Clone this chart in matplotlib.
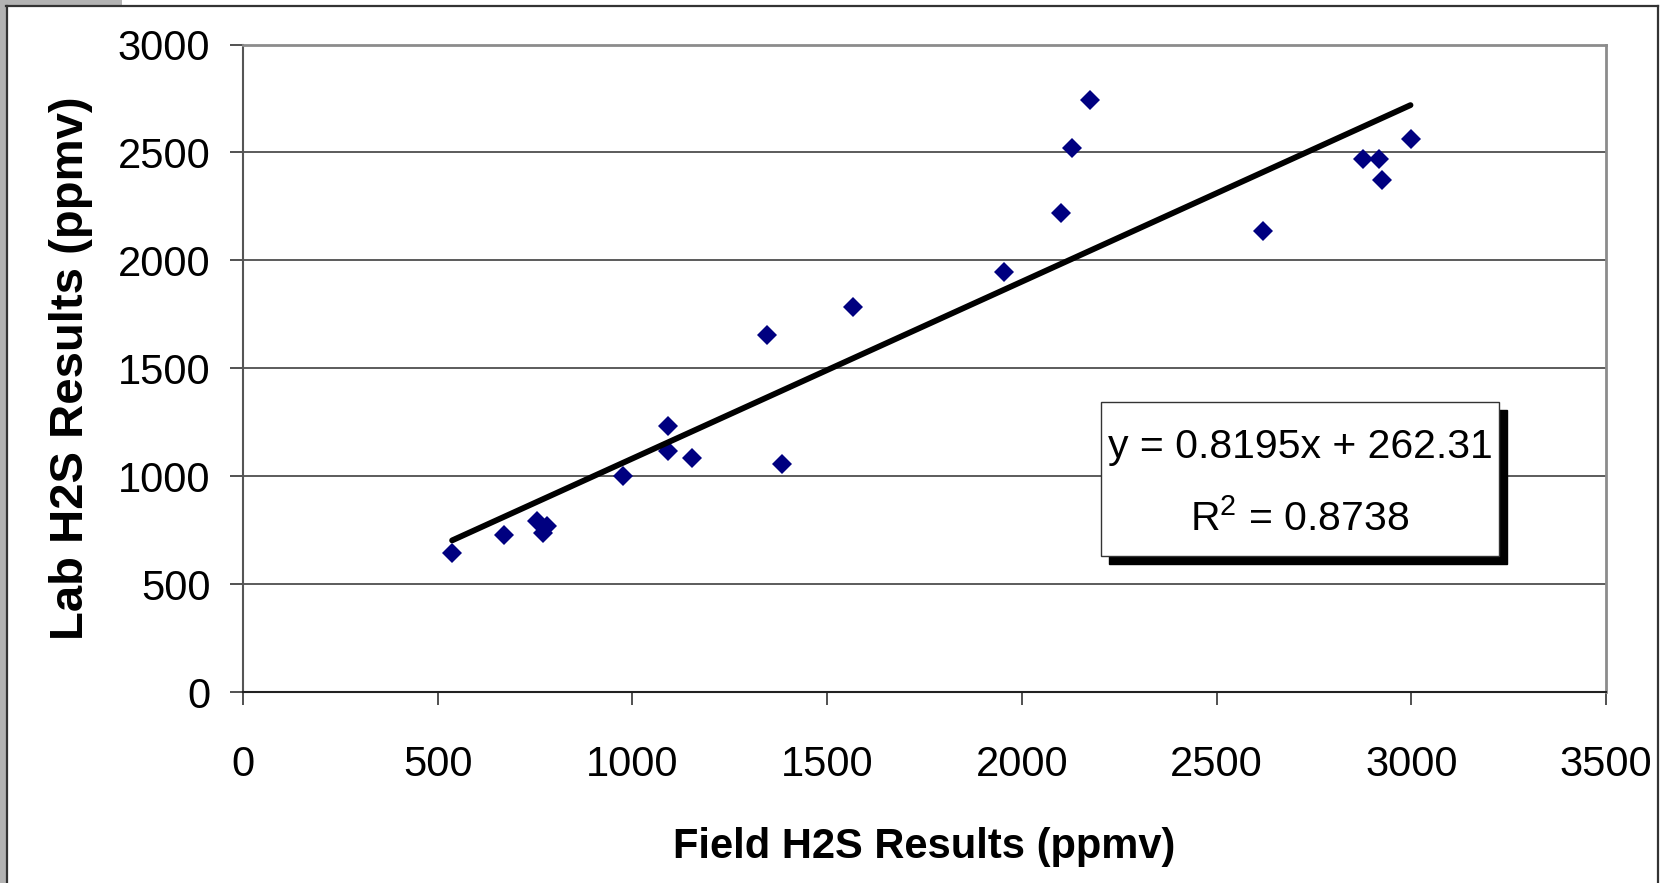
import numpy as np
import matplotlib
matplotlib.use("Agg")
import matplotlib.pyplot as plt
from matplotlib.patches import Rectangle
from matplotlib.lines import Line2D

plt.rcParams['font.family'] = ['Liberation Sans', 'DejaVu Sans']
plt.rcParams['mathtext.fontset'] = 'custom'
plt.rcParams['mathtext.rm'] = 'Liberation Sans'
plt.rcParams['mathtext.it'] = 'Liberation Sans:italic'

# Field vs lab H2S readings (ppmv)
field_h2s = [537, 671, 756, 770, 780, 977, 1092, 1092, 1152, 1346, 1385, 1566,
             1953, 2101, 2129, 2175, 2618, 2877, 2918, 2925, 2998]
lab_h2s = [644, 727, 794, 738, 769, 1000, 1234, 1118, 1083, 1656, 1056, 1782,
           1946, 2221, 2522, 2743, 2137, 2468, 2468, 2372, 2562]

# linear trendline as reported on the chart
slope = 0.8195
intercept = 262.31
r_squared = 0.8738

x_ticks = [0, 500, 1000, 1500, 2000, 2500, 3000, 3500]
y_ticks = [0, 500, 1000, 1500, 2000, 2500, 3000]

W, H = 1665, 883
fig = plt.figure(figsize=(W / 100, H / 100), dpi=100)
ax = fig.add_axes([243 / W, 1 - 692 / H, (1606 - 243) / W, (692 - 44.5) / H])

# gridlines
ax.set_axisbelow(True)
ax.yaxis.grid(True, color='#404040', linewidth=1.2)

# scatter points
ax.plot(field_h2s, lab_h2s, linestyle='none', marker='D', markersize=10.5,
        color='#000080', markeredgewidth=0, zorder=3)

# trendline over the data range
xs = np.array([min(field_h2s), max(field_h2s)])
ax.plot(xs, slope * xs + intercept, color='black', linewidth=4.2,
        solid_capstyle='round', zorder=4)

ax.set_xlim(0, 3500)
ax.set_ylim(0, 3000)
ax.set_xticks(x_ticks)
ax.set_yticks(y_ticks)
ax.tick_params(axis='both', direction='out', length=9.5, width=1.2,
               labelsize=30, color='#333333')
ax.tick_params(axis='y', pad=14)
ax.tick_params(axis='x', pad=29)

for side in ['top', 'right']:
    ax.spines[side].set_color('#8c8c8c')
    ax.spines[side].set_linewidth(2)
ax.spines['left'].set_color('#555555')
ax.spines['left'].set_linewidth(1.5)
ax.spines['bottom'].set_color('#222222')
ax.spines['bottom'].set_linewidth(1.5)

ax.set_xlabel('Field H2S Results (ppmv)', fontsize=30, fontweight='bold')
ax.set_ylabel('Lab H2S Results (ppmv)', fontsize=34, fontweight='bold')
ax.xaxis.set_label_coords(0.5, -0.208)
ax.yaxis.set_label_coords(-0.110, 0.5)

# equation box with drop shadow
bx0, bx1 = 1101 / W, 1499 / W
by0, by1 = 1 - 556 / H, 1 - 402 / H
fig.add_artist(Rectangle((bx0 + 8 / W, by0 - 8 / H), bx1 - bx0, by1 - by0,
                         transform=fig.transFigure, facecolor='black',
                         edgecolor='black', zorder=5))
fig.add_artist(Rectangle((bx0, by0), bx1 - bx0, by1 - by0,
                         transform=fig.transFigure, facecolor='white',
                         edgecolor='#333333', linewidth=1, zorder=6))
fig.text((bx0 + bx1) / 2, 1 - 447 / H, f'y = {slope}x + {intercept}',
         fontsize=29.5, ha='center', va='center', zorder=7)
fig.text((bx0 + bx1) / 2, 1 - 519 / H, r'R$^{2}$ = ' + f'{r_squared}',
         fontsize=29.5, ha='center', va='center', zorder=7)

# outer frame of the original chart object
fig.add_artist(Rectangle((0, 0), 6 / W, 1, transform=fig.transFigure,
                         facecolor='#b3b3b3', edgecolor='none'))
fig.add_artist(Rectangle((0, 1 - 5 / H), 122 / W, 5 / H, transform=fig.transFigure,
                         facecolor='#b3b3b3', edgecolor='none'))
fig.add_artist(Line2D([7 / W, 7 / W], [0, 1 - 5.5 / H], transform=fig.transFigure,
                      color='#333333', linewidth=1.6))
fig.add_artist(Line2D([6 / W, 1658 / W], [1 - 5.5 / H, 1 - 5.5 / H],
                      transform=fig.transFigure, color='#333333', linewidth=1.6))
fig.add_artist(Line2D([1658 / W, 1658 / W], [0, 1 - 5.5 / H], transform=fig.transFigure,
                      color='#333333', linewidth=1.6))

fig.savefig('out.png', dpi=100)
